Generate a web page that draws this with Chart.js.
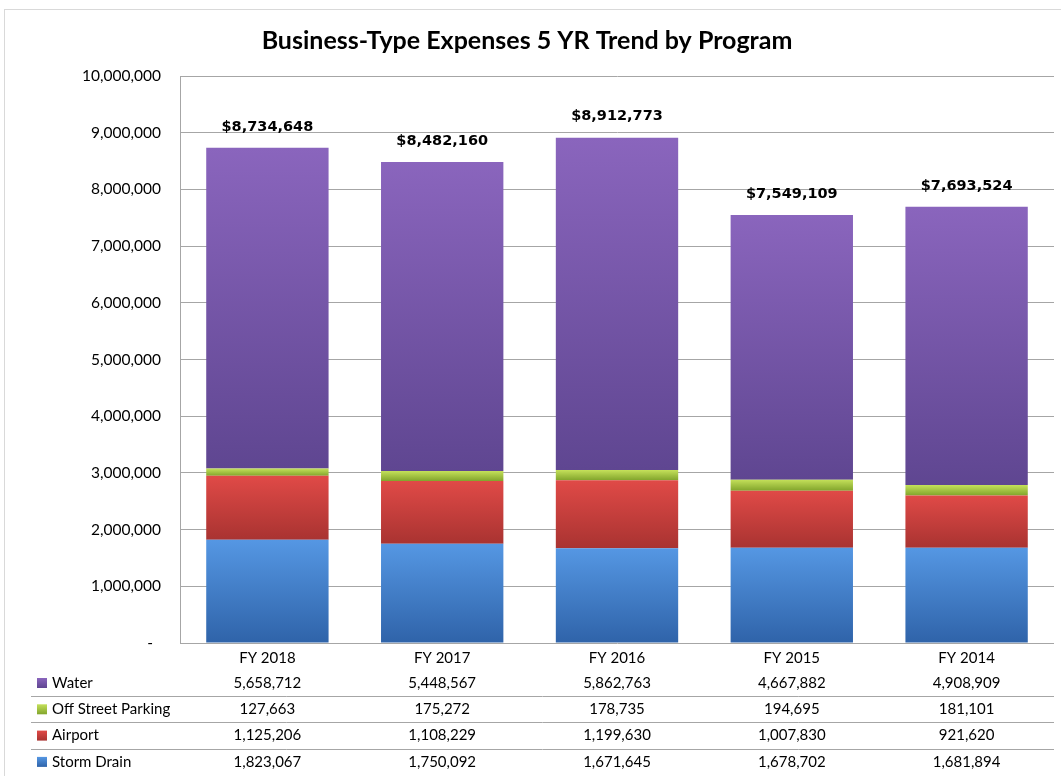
<!DOCTYPE html>
<html>
<head>
<meta charset="utf-8">
<script src="https://cdn.jsdelivr.net/npm/chart.js@4.4.1/dist/chart.umd.min.js"></script>
<style>
  html, body { margin: 0; padding: 0; background: #fff; }
  #wrap { position: relative; width: 1061px; height: 776px; overflow: hidden; }
  #frame { position: absolute; left: 4px; top: 9px; width: 1100px; height: 800px; border: 1px solid #d9d9d9; box-sizing: border-box; }
  canvas { position: absolute; left: 0; top: 0; }
</style>
</head>
<body>
<div id="wrap">
  <div id="frame"></div>
  <canvas id="expChart" width="1061" height="776"></canvas>
</div>
<script>
const years = ['FY 2018', 'FY 2017', 'FY 2016', 'FY 2015', 'FY 2014'];
const stormDrain = [1823067, 1750092, 1671645, 1678702, 1681894];
const airport = [1125206, 1108229, 1199630, 1007830, 921620];
const offStreetParking = [127663, 175272, 178735, 194695, 181101];
const water = [5658712, 5448567, 5862763, 4667882, 4908909];
const yTicks = [0, 1000000, 2000000, 3000000, 4000000, 5000000, 6000000, 7000000, 8000000, 9000000, 10000000];

const fmt = n => n.toLocaleString('en-US');

// top / bottom shades for the bevel look
const shades = {
    'Storm Drain': ['#5597e3', '#2f63a9'],
    'Airport': ['#e04a47', '#a93331'],
    'Off Street Parking': ['#c4e05a', '#82a52c'],
    'Water': ['#8a65bd', '#5f4691']
};

function segFill(ctx) {
    const chart = ctx.chart;
    const area = chart.chartArea;
    const name = ctx.dataset.label;
    if (!area || ctx.type !== 'data') return shades[name][0];
    const y = chart.scales.y;
    let base = 0;
    for (let d = 0; d < ctx.datasetIndex; d++) base += chart.data.datasets[d].data[ctx.dataIndex];
    const top = y.getPixelForValue(base + ctx.raw);
    const bot = y.getPixelForValue(base);
    const g = chart.ctx.createLinearGradient(0, top, 0, Math.max(bot, top + 1));
    g.addColorStop(0, shades[name][0]);
    g.addColorStop(1, shades[name][1]);
    return g;
}

const totalsPlugin = {
    id: 'totals',
    afterDatasetsDraw(chart) {
        const c = chart.ctx;
        const x = chart.scales.x, y = chart.scales.y;
        c.save();
        c.font = 'bold 14.5px "DejaVu Sans"';
        c.fillStyle = '#000';
        c.textAlign = 'center';
        c.textBaseline = 'middle';
        years.forEach((yr, i) => {
            const total = stormDrain[i] + airport[i] + offStreetParking[i] + water[i];
            c.fillText('$' + fmt(total), x.getPixelForValue(i), y.getPixelForValue(total) - 21);
        });
        c.restore();
    }
};

const tablePlugin = {
    id: 'dataTable',
    afterDraw(chart) {
        const c = chart.ctx;
        const x = chart.scales.x;
        const rows = [
            ['Water', water],
            ['Off Street Parking', offStreetParking],
            ['Airport', airport],
            ['Storm Drain', stormDrain]
        ];
        const top0 = chart.chartArea.bottom + 40;
        const rowH = 26.3;
        c.save();
        c.font = '15px Lato';
        c.textBaseline = 'middle';
        rows.forEach((r, k) => {
            const cy = top0 + k * rowH;
            const sh = shades[r[0]];
            const g = c.createLinearGradient(0, cy - 5, 0, cy + 5);
            g.addColorStop(0, sh[0]);
            g.addColorStop(1, sh[1]);
            c.fillStyle = g;
            c.fillRect(37, cy - 5, 10, 10);
            c.fillStyle = '#000';
            c.textAlign = 'left';
            c.fillText(r[0], 52, cy);
            c.textAlign = 'center';
            r[1].forEach((v, i) => c.fillText(fmt(v), x.getPixelForValue(i), cy));
            if (k < rows.length - 1) {
                c.strokeStyle = '#a6a6a6';
                c.lineWidth = 1;
                c.beginPath();
                c.moveTo(31, Math.round(cy + rowH / 2) + 0.5);
                c.lineTo(chart.chartArea.right, Math.round(cy + rowH / 2) + 0.5);
                c.stroke();
            }
        });
        c.restore();
    }
};

new Chart(document.getElementById('expChart').getContext('2d'), {
    type: 'bar',
    data: {
        labels: years,
        datasets: [
            { label: 'Storm Drain', data: stormDrain },
            { label: 'Airport', data: airport },
            { label: 'Off Street Parking', data: offStreetParking },
            { label: 'Water', data: water }
        ].map(ds => Object.assign(ds, {
            backgroundColor: segFill,
            borderWidth: 0,
            categoryPercentage: 1,
            barPercentage: 0.7
        }))
    },
    options: {
        responsive: false,
        animation: false,
        layout: { padding: { top: 0, right: 7, bottom: 0, left: 0 } },
        plugins: {
            legend: { display: false },
            tooltip: { enabled: false },
            title: {
                display: true,
                text: 'Business-Type Expenses 5 YR Trend by Program',
                color: '#000',
                font: { family: 'Lato', size: 25, weight: 'bold' },
                padding: { top: 26, bottom: 20 }
            }
        },
        scales: {
            x: {
                stacked: true,
                grid: { display: false, drawTicks: false },
                border: { display: false },
                ticks: { color: '#000', font: { family: 'Lato', size: 15 }, padding: 6 },
                afterFit(scale) { scale.height = 133; }
            },
            y: {
                stacked: true,
                min: 0,
                max: 10000000,
                afterBuildTicks(scale) { scale.ticks = yTicks.map(v => ({ value: v })); },
                grid: { color: '#a6a6a6', drawTicks: false },
                border: { display: true, color: '#a6a6a6' },
                ticks: {
                    color: '#000',
                    font: { family: 'Lato', size: 15.5 },
                    padding: 19,
                    callback: v => v === 0 ? '-  ' : fmt(v)
                },
                afterFit(scale) { scale.width = 180; }
            }
        }
    },
    plugins: [totalsPlugin, tablePlugin]
});
</script>
</body>
</html>
